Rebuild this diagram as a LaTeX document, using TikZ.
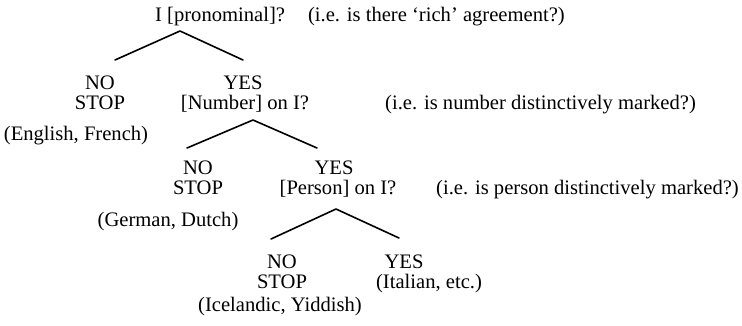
\documentclass[tikz,border=0pt]{standalone}
\usepackage{fontspec}
\setmainfont{Liberation Serif}
\begin{document}
\begin{tikzpicture}[x=1pt,y=-1pt,
  lbl/.style={anchor=base,inner sep=0pt,font=\fontsize{20.6}{22}\selectfont},
  branch/.style={line width=1.6pt,line cap=round,line join=round}]
\useasboundingbox (0,0) rectangle (742,325);

% first question
\node[lbl,anchor=base west] (q1) at (155,21) {I [pronominal]?};
\node[lbl,anchor=base east] (c1) at (565,21) {(i.e. is there `rich' agreement?)};
\coordinate (f1) at (180,31);
\coordinate (f1l) at (115,60);
\coordinate (f1r) at (243,60);
\draw[branch] (f1l) -- (f1) -- (f1r);
\node[lbl] (no1) at (100,89) {NO};
\node[lbl] (stop1) at (100,109) {STOP};
\node[lbl] (ex1) at (76,140) {(English, French)};
\node[lbl] (yes1) at (243,89) {YES};

% second question
\node[lbl] (q2) at (245,109) {[Number] on I?};
\node[lbl,anchor=base west] (c2) at (385,109) {(i.e. is number distinctively marked?)};
\coordinate (f2) at (253,120);
\coordinate (f2l) at (187,148);
\coordinate (f2r) at (317,148);
\draw[branch] (f2l) -- (f2) -- (f2r);
\node[lbl] (no2) at (198,174) {NO};
\node[lbl] (stop2) at (198,194) {STOP};
\node[lbl] (ex2) at (168,226) {(German, Dutch)};
\node[lbl] (yes2) at (334,174) {YES};

% third question
\node[lbl] (q3) at (338,194) {[Person] on I?};
\node[lbl,anchor=base east] (c3) at (739,194) {(i.e. is person distinctively marked?)};
\coordinate (f3) at (336,209);
\coordinate (f3l) at (271,239);
\coordinate (f3r) at (399,238);
\draw[branch] (f3l) -- (f3) -- (f3r);
\node[lbl] (no3) at (282,268) {NO};
\node[lbl] (stop3) at (282,288) {STOP};
\node[lbl] (ex3) at (280,311) {(Icelandic, Yiddish)};
\node[lbl] (yes3) at (404,268) {YES};
\node[lbl] (ex4) at (429,288) {(Italian, etc.)};
\end{tikzpicture}
\end{document}
